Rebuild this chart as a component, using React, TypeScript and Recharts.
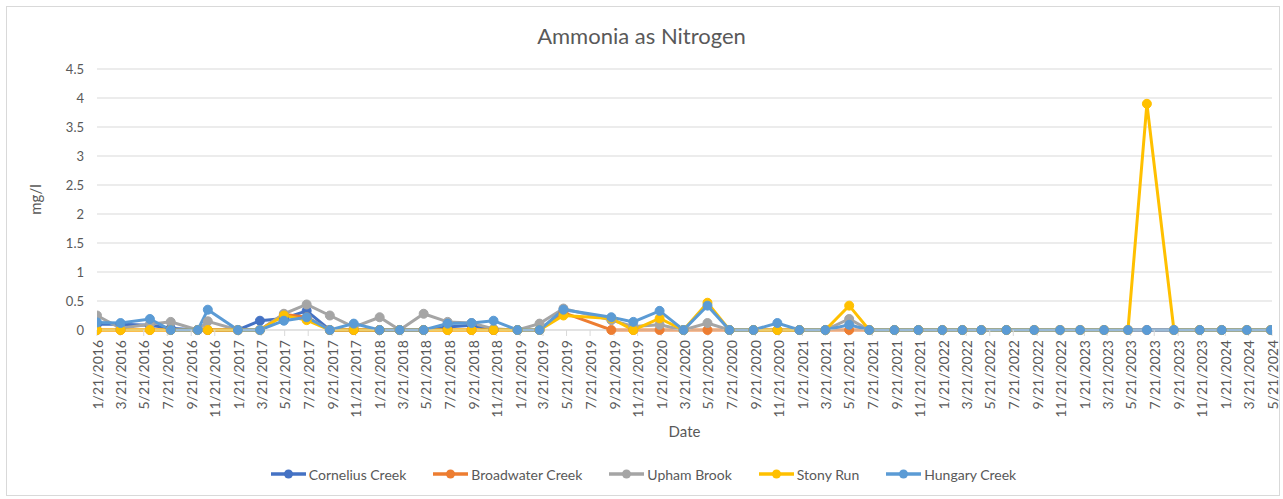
import React from 'react';
import { LineChart, Line, XAxis, YAxis, CartesianGrid, Legend, Label } from 'recharts';

const FONT = 'Lato, "Liberation Sans", sans-serif';
const TEXT = '#595959';

// Sampling dates
const dates = [
  '1/21/2016', '3/22/2016', '6/6/2016', '7/30/2016', '10/8/2016', '11/3/2016',
  '1/20/2017', '3/18/2017', '5/19/2017', '7/17/2017', '9/15/2017', '11/16/2017',
  '1/22/2018', '3/15/2018', '5/16/2018', '7/17/2018', '9/17/2018', '11/13/2018',
  '1/14/2019', '3/12/2019', '5/13/2019', '9/14/2019', '11/10/2019',
  '1/17/2020', '3/19/2020', '5/20/2020', '7/16/2020', '9/16/2020', '11/17/2020',
  '1/13/2021', '3/21/2021', '5/22/2021', '7/13/2021', '9/16/2021', '11/17/2021',
  '1/18/2022', '3/11/2022', '4/29/2022', '7/3/2022', '9/13/2022', '11/19/2022',
  '1/10/2023', '3/13/2023', '5/14/2023', '7/2/2023', '9/10/2023', '11/16/2023',
  '1/12/2024', '3/17/2024', '5/18/2024',
];

const cornelius: (number | null)[] = [
  0.1, 0.1, 0.08, 0.03, 0, 0,
  0, 0.16, 0.2, 0.33, 0, 0,
  0, 0, 0, 0.05, 0.08, 0,
  null, null, null, null, null, null, null, null, null, null, null, null, null, null, null,
  null, null, null, null, null, null, null, null, null, null, null, null, null, null, null, null, null,
];

const broadwater: (number | null)[] = [
  0, 0, 0, 0, 0, 0,
  0, 0, 0.27, 0.22, 0, 0,
  0, 0, 0, 0, 0, 0,
  0, 0, 0.3, 0, 0, 0, 0, 0, 0, 0, 0, 0, 0, 0, 0,
  0, 0, 0, 0, 0, 0, 0, 0, 0, 0, 0, 0, 0, 0, 0, 0, 0,
];

const upham: (number | null)[] = [
  0.25, 0.03, 0.1, 0.14, 0, 0.15,
  0, 0, 0.28, 0.44, 0.25, 0.05,
  0.22, 0, 0.28, 0.14, 0.12, 0.02,
  0, 0.11, 0.37, 0.17, 0.06, 0.09, 0, 0.12, 0, 0, 0, 0, 0, 0.19, 0,
  0, 0, 0, 0, 0, 0, 0, 0, 0, 0, 0, 0, 0, 0, 0, 0, 0,
];

const stony: (number | null)[] = [
  0, 0, 0, 0, 0, 0,
  0, 0, 0.25, 0.17, 0, 0,
  0, 0, 0, 0, 0, 0,
  0, 0, 0.25, 0.2, 0, 0.2, 0, 0.47, 0, 0, 0, 0, 0, 0.42, 0,
  0, 0, 0, 0, 0, 0, 0, 0, 0, 0, 0, 3.9, 0, 0, 0, 0, 0,
];

const hungary: (number | null)[] = [
  0.13, 0.12, 0.19, 0, 0, 0.35,
  0, 0, 0.16, 0.22, 0, 0.11,
  0, 0, 0, 0.11, 0.12, 0.16,
  0, 0, 0.35, 0.22, 0.14, 0.33, 0, 0.42, 0, 0, 0.12, 0, 0, 0.09, 0,
  0, 0, 0, 0, 0, 0, 0, 0, 0, 0, 0, 0, 0, 0, 0, 0, 0,
];

const xTickLabels = [
  '1/21/2016', '3/21/2016', '5/21/2016', '7/21/2016', '9/21/2016', '11/21/2016',
  '1/21/2017', '3/21/2017', '5/21/2017', '7/21/2017', '9/21/2017', '11/21/2017',
  '1/21/2018', '3/21/2018', '5/21/2018', '7/21/2018', '9/21/2018', '11/21/2018',
  '1/21/2019', '3/21/2019', '5/21/2019', '7/21/2019', '9/21/2019', '11/21/2019',
  '1/21/2020', '3/21/2020', '5/21/2020', '7/21/2020', '9/21/2020', '11/21/2020',
  '1/21/2021', '3/21/2021', '5/21/2021', '7/21/2021', '9/21/2021', '11/21/2021',
  '1/21/2022', '3/21/2022', '5/21/2022', '7/21/2022', '9/21/2022', '11/21/2022',
  '1/21/2023', '3/21/2023', '5/21/2023', '7/21/2023', '9/21/2023', '11/21/2023',
  '1/21/2024', '3/21/2024', '5/21/2024',
];

const yTicks = [0, 0.5, 1, 1.5, 2, 2.5, 3, 3.5, 4, 4.5];

const seriesDefs = [
  { key: 'cornelius', name: 'Cornelius Creek', color: '#4472C4' },
  { key: 'broadwater', name: 'Broadwater Creek', color: '#ED7D31' },
  { key: 'upham', name: 'Upham Brook', color: '#A5A5A5' },
  { key: 'stony', name: 'Stony Run', color: '#FFC000' },
  { key: 'hungary', name: 'Hungary Creek', color: '#5B9BD5' },
];
const seriesOrder = seriesDefs.map((s) => s.name);

const toDay = (s: string) => {
  const [m, d, y] = s.split('/').map(Number);
  return Date.UTC(y, m - 1, d) / 86400000;
};

const tickDays = xTickLabels.map(toDay);
const labelByDay: Record<number, string> = {};
tickDays.forEach((d, i) => { labelByDay[d] = xTickLabels[i]; });

const data = dates.map((d, i) => ({
  t: toDay(d),
  cornelius: cornelius[i],
  broadwater: broadwater[i],
  upham: upham[i],
  stony: stony[i],
  hungary: hungary[i],
}));

const XTick = (props: any) => {
  const { x, y, payload } = props;
  return (
    <text
      x={x}
      y={y}
      transform={`rotate(-90 ${x} ${y})`}
      textAnchor="end"
      dominantBaseline="central"
      fill={TEXT}
      fontSize={14}
      fontFamily={FONT}
    >
      {labelByDay[payload.value] ?? ''}
    </text>
  );
};

const YTitle = (props: any) => {
  const vb = props.viewBox || { x: 0, y: 69, width: 97, height: 261 };
  const cx = vb.x + 35;
  const cy = vb.y + vb.height / 2;
  return (
    <text
      x={cx}
      y={cy}
      transform={`rotate(-90 ${cx} ${cy})`}
      textAnchor="middle"
      dominantBaseline="central"
      fill={TEXT}
      fontSize={15}
      fontFamily={FONT}
    >
      mg/l
    </text>
  );
};

const renderLegend = (props: any) => {
  const payload = [...(props.payload || [])].sort(
    (a: any, b: any) => seriesOrder.indexOf(a.value) - seriesOrder.indexOf(b.value)
  );
  return (
    <div
      style={{
        display: 'flex',
        justifyContent: 'center',
        alignItems: 'center',
        height: 34,
        gap: 27,
        fontFamily: FONT,
        fontSize: 14,
        color: TEXT,
        paddingLeft: 15,
      }}
    >
      {payload.map((p: any) => (
        <div key={p.value} style={{ display: 'flex', alignItems: 'center' }}>
          <svg width={35} height={10} style={{ display: 'block' }}>
            <line x1={0} y1={5} x2={35} y2={5} stroke={p.color} strokeWidth={3.5} />
            <circle cx={17.5} cy={5} r={4.5} fill={p.color} />
          </svg>
          <span style={{ marginLeft: 3 }}>{p.value}</span>
        </div>
      ))}
    </div>
  );
};

export default function App() {
  return (
    <div
      style={{
        position: 'absolute',
        left: 0,
        top: 0,
        width: 1283,
        height: 499,
        background: '#fff',
        fontFamily: FONT,
      }}
    >
      <div
        style={{
          position: 'absolute',
          left: 6,
          top: 6,
          width: 1274,
          height: 490,
          border: '1px solid #D9D9D9',
          boxSizing: 'border-box',
        }}
      />
      <div style={{ position: 'absolute', left: 0, top: 0 }}>
        <LineChart
          width={1283}
          height={499}
          data={data}
          margin={{ top: 69, right: 11, left: 0, bottom: 8 }}
        >
          <CartesianGrid vertical={false} stroke="#D9D9D9" strokeWidth={1} />
          <XAxis
            dataKey="t"
            type="number"
            scale="linear"
            domain={[tickDays[0], tickDays[tickDays.length - 1]]}
            ticks={tickDays}
            interval={0}
            height={127}
            axisLine={{ stroke: '#D9D9D9' }}
            tickLine={{ stroke: '#D9D9D9' }}
            tickSize={6}
            tickMargin={4}
            tick={<XTick />}
            allowDataOverflow
          >
            <Label value="Date" position="insideBottom" offset={20} fill={TEXT} fontSize={15} fontFamily={FONT} />
          </XAxis>
          <YAxis
            domain={[0, 4.5]}
            ticks={yTicks}
            interval={0}
            width={97}
            axisLine={false}
            tickLine={false}
            tickSize={0}
            tickMargin={13}
            tick={{ fill: TEXT, fontSize: 13, fontFamily: FONT }}
          >
            <Label content={YTitle} />
          </YAxis>
          <Legend verticalAlign="bottom" align="center" height={34} content={renderLegend} />
          {seriesDefs.map((s) => (
            <Line
              key={s.key}
              type="linear"
              dataKey={s.key}
              name={s.name}
              stroke={s.color}
              strokeWidth={3}
              dot={{ r: 4.5, fill: s.color, stroke: s.color, strokeWidth: 1 }}
              activeDot={false}
              isAnimationActive={false}
              connectNulls={false}
            />
          ))}
        </LineChart>
      </div>
      <div
        style={{
          position: 'absolute',
          top: 22,
          left: 0,
          width: 1283,
          textAlign: 'center',
          fontSize: 22,
          color: TEXT,
        }}
      >
        Ammonia as Nitrogen
      </div>
    </div>
  );
}
